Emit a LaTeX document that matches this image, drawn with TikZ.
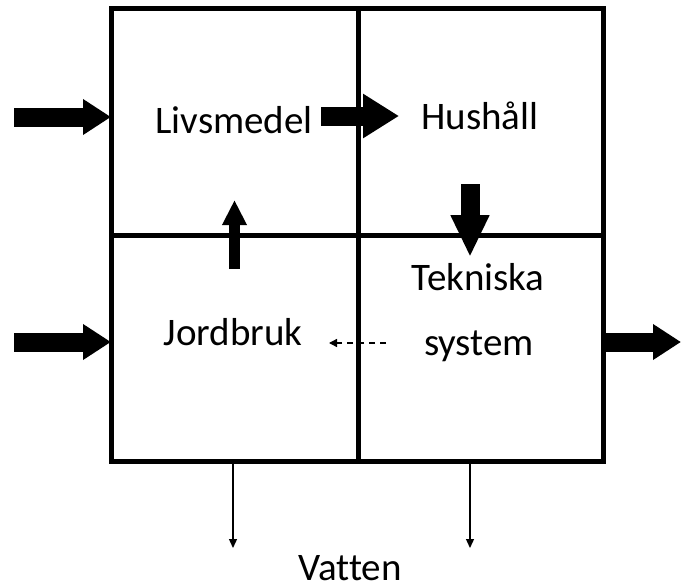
\documentclass[tikz,border=0pt]{standalone}
\usepackage{fontspec}
\setmainfont{Carlito}[Ligatures=NoCommon]
\usetikzlibrary{arrows.meta}
\begin{document}
\begin{tikzpicture}[x=1pt,y=-1pt,
  gridline/.style={line width=5pt, line cap=rect},
  lbl/.style={font=\fontsize{39}{44}\selectfont, inner sep=0pt, anchor=base},
  block/.style={line width=19pt, line cap=butt, -{Triangle[width=34pt,length=28pt]}},
  bigblock/.style={line width=19pt, line cap=butt, -{Triangle[width=#1]}},
  upblock/.style={line width=11pt, line cap=butt, -{Triangle[width=23pt,length=25pt]}},
  thin/.style={line width=1.3pt, -{Triangle[width=8pt,length=9pt]}},
  dashflow/.style={line width=1.3pt, dash pattern=on 6pt off 5pt, -{Triangle[width=8pt,length=8pt]}}]
\useasboundingbox (0,0) rectangle (681,587);
% grid
\coordinate (TL) at (111.5,8.5);
\coordinate (BR) at (603,461.5);
\draw[gridline] (TL) rectangle (BR);
\coordinate (mT) at (358,8.5);
\coordinate (mB) at (358,461.5);
\coordinate (mL) at (111.5,235);
\coordinate (mR) at (603,235);
\draw[gridline] (mT) -- (mB);
\draw[gridline] (mL) -- (mR);
% labels
\node[lbl] (liv) at (234,133) {Livsmedel};
\node[lbl] (hus) at (480,129) {Hushåll};
\node[lbl] (jord) at (233,345) {Jordbruk};
\node[lbl] (tek) at (478,290) {Tekniska};
\node[lbl] (sys) at (479,355) {system};
\node[lbl] (vat) at (350,580) {Vatten};
% coordinates for flows
\coordinate (in1s) at (14,117);
\coordinate (in1e) at (111,117);
\coordinate (in2s) at (14,342);
\coordinate (in2e) at (111,342);
\coordinate (outs) at (605,342);
\coordinate (oute) at (681,342);
\coordinate (lhS) at (321,116);
\coordinate (lhE) at (399,116);
\coordinate (htS) at (470,184);
\coordinate (htE) at (470,257);
\coordinate (jlS) at (234.5,269);
\coordinate (jlE) at (234.5,200);
\coordinate (dS) at (386,343);
\coordinate (dE) at (329,343);
\coordinate (v1S) at (233,463);
\coordinate (v1E) at (233,548);
\coordinate (v2S) at (470,463);
\coordinate (v2E) at (470,548);
% flows
\draw[block] (in1s) -- (in1e);
\draw[block] (in2s) -- (in2e);
\draw[block] (outs) -- (oute);
\draw[line width=19pt, line cap=butt, -{Triangle[width=42pt,length=36pt]}] (lhS) -- (lhE);
\draw[line width=19pt, line cap=butt, -{Triangle[width=36pt,length=42pt]}] (htS) -- (htE);
\draw[upblock] (jlS) -- (jlE);
\draw[dashflow] (dS) -- (dE);
\draw[thin] (v1S) -- (v1E);
\draw[thin] (v2S) -- (v2E);
\end{tikzpicture}
\end{document}
